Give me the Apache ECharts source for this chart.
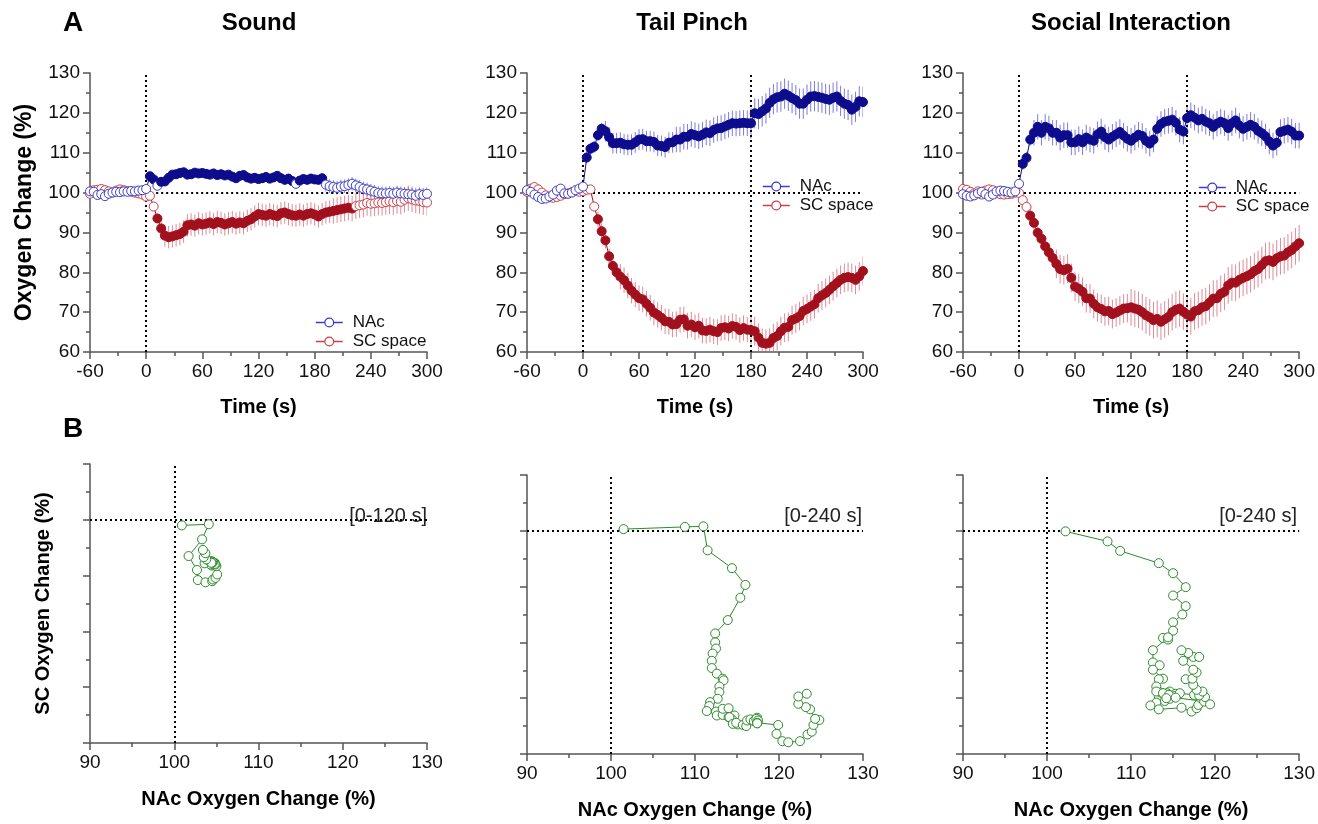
<!DOCTYPE html>
<html><head><meta charset="utf-8">
<script src="https://cdn.jsdelivr.net/npm/echarts@6/dist/echarts.min.js"></script>
<style>html,body{margin:0;padding:0;background:#fff}#c{width:1318px;height:824px}</style>
</head><body><div id="c"></div>
<script>
// ---------------- DATA ----------------
const times = [-60,-56,-52,-48,-44,-40,-36,-32,-28,-24,-20,-16,-12,-8,-4,0,4,8,12,16,20,24,28,32,36,40,44,48,52,56,60,64,68,72,76,80,84,88,92,96,100,104,108,112,116,120,124,128,132,136,140,144,148,152,156,160,164,168,172,176,180,184,188,192,196,200,204,208,212,216,220,224,228,232,236,240,244,248,252,256,260,264,268,272,276,280,284,288,292,296,300];

const panelTitles = ['Sound', 'Tail Pinch', 'Social Interaction'];
const windowLabels = ['[0-120 s]', '[0-240 s]', '[0-240 s]'];
const windowEnds = [120, 240, 240];
const stimEnds = [null, 180, 180];

const soundNAc = [100.3,100.2,99.4,99.6,99.1,99.7,100.0,100.2,100.1,100.3,100.2,100.4,100.3,100.5,100.6,
  100.9,
  104.1,103.3,101.7,102.7,102.8,103.7,104.5,104.6,104.9,105.1,104.5,104.6,105.0,104.8,104.9,104.7,104.5,104.8,104.4,104.6,104.3,104.5,104.0,103.6,104.2,104.4,103.8,103.5,103.7,103.4,
  103.6,103.9,103.5,103.8,104.2,103.6,103.2,103.5,102.9,102.2,103.0,103.4,103.2,103.5,103.3,
  103.2,103.6,102.0,101.6,101.4,101.2,101.5,101.6,101.9,102.2,101.8,101.4,101.0,100.8,100.5,
  100.2,99.9,99.8,99.8,99.9,99.7,100.0,99.8,99.7,99.6,99.5,99.2,99.6,99.4,99.7];
const soundSC = [99.7,100.6,100.7,100.9,100.6,100.3,100.0,100.5,100.8,100.6,100.4,100.2,100.0,99.8,99.5,
  99.0,
  99.2,96.5,93.5,91.0,89.2,88.8,89.0,89.3,89.6,90.2,91.8,92.0,91.7,92.3,92.0,92.2,92.5,92.1,92.6,92.4,92.0,92.3,92.6,92.2,92.5,92.3,92.9,93.3,94.0,94.6,
  94.4,94.2,94.6,94.3,94.1,94.8,95.0,94.6,94.3,94.2,94.5,94.2,94.6,94.8,94.5,
  94.0,94.6,95.0,95.2,95.4,95.6,95.8,96.0,96.2,96.0,96.6,96.8,97.0,97.4,97.2,
  97.3,97.5,97.4,97.6,97.8,97.6,97.9,97.7,98.2,98.6,98.3,98.0,97.9,97.6,97.5];

const tailNAc = [100.6,100.2,99.5,98.9,98.4,98.5,99.0,99.5,100.5,101.0,99.8,99.7,100.0,100.6,101.0,
  101.5,
  108.8,111.0,111.5,114.4,116.0,115.4,113.9,112.4,112.4,112.5,112.1,112.0,112.0,112.6,113.3,113.4,112.9,112.9,112.7,111.8,111.7,111.4,112.5,112.6,113.3,113.3,114.0,114.0,114.7,114.4,
  114.1,114.5,115.1,114.9,115.7,116.1,116.2,116.6,117.0,117.4,117.3,117.4,117.5,117.4,117.4,
  119.9,119.7,120.4,121.1,122.5,123.4,123.9,124.1,124.8,124.3,123.7,123.2,122.3,122.3,123.3,
  124.1,124.2,124.0,123.8,123.5,123.3,123.8,124.1,123.0,122.3,122.0,120.8,121.5,122.9,122.7];
const tailSC = [100.2,101.0,101.4,100.8,100.0,99.3,98.8,98.7,98.9,99.2,99.6,99.8,100.1,100.4,100.2,
  100.3,
  100.7,100.8,96.5,93.3,90.3,88.0,84.0,81.6,80.0,78.9,78.0,76.7,75.4,74.4,73.5,73.2,72.1,71.1,69.9,69.3,68.6,67.7,67.6,66.9,67.0,68.1,68.2,66.6,66.9,66.2,
  66.6,65.4,65.3,65.6,65.2,65.0,66.0,66.2,65.9,66.5,66.3,65.5,66.0,65.6,65.5,
  65.2,63.6,62.3,62.1,62.3,63.5,64.0,65.2,66.1,66.3,68.0,68.4,69.0,70.3,70.8,
  71.4,72.0,73.5,74.2,74.8,75.6,76.5,77.3,78.1,78.6,78.8,78.6,78.1,79.0,80.3];

const socialNAc = [99.6,99.2,99.0,99.3,99.8,100.2,99.6,99.0,99.5,100.3,100.5,100.4,100.2,100.0,100.3,
  102.2,
  107.2,108.7,113.3,115.0,116.5,115.0,116.5,116.1,115.0,115.0,113.8,114.4,114.4,112.6,112.6,113.4,112.6,113.8,113.3,113.0,114.6,115.3,113.9,113.3,114.0,114.6,115.2,114.3,113.5,113.0,
  113.8,114.5,114.2,113.0,112.3,113.3,116.0,117.2,117.8,118.0,118.3,117.5,115.8,115.3,118.7,
  119.4,118.8,118.1,118.5,117.8,117.4,116.5,117.3,117.8,117.4,116.2,117.4,118.1,116.8,116.0,
  116.5,117.0,116.5,115.5,114.9,114.1,112.8,111.8,112.5,115.2,115.5,115.8,115.3,114.3,114.3];
const socialSC = [100.9,100.7,100.2,99.8,100.3,99.5,100.5,100.8,100.6,99.8,99.6,99.5,99.6,99.7,100.0,
  99.9,
  98.1,96.4,94.2,92.4,89.9,88.4,86.5,85.0,83.6,82.1,80.8,80.5,80.9,78.6,76.4,75.9,75.1,73.5,73.4,72.1,71.2,70.8,70.2,70.3,69.5,69.9,70.4,70.9,71.0,71.2,
  70.9,70.6,70.0,69.2,68.7,68.0,68.3,67.6,68.2,68.8,70.0,70.6,70.9,70.1,69.4,
  68.9,70.2,70.5,71.2,71.5,72.4,73.4,73.5,74.6,75.1,76.7,77.4,77.4,78.1,78.6,
  79.0,79.5,80.3,80.8,81.8,82.8,83.0,82.6,83.5,84.0,84.2,85.0,85.6,86.5,87.3];

// time ranges (s) where markers are filled (significant)
const soundNAcSig = [[4, 8], [16, 156], [164, 188]];
const soundSCSig = [[12, 220]];
const tailNAcSig = [[4, 300]];
const tailSCSig = [[16, 300]];
const socialNAcSig = [[4, 300]];
const socialSCSig = [[12, 300]];

// SEM read as step segments: [from time, sem]
const soundNAcSem = [[-60, 0.4], [4, 0.9], [100, 1.2], [190, 1.7]];
const soundSCSem = [[-60, 0.5], [4, 1.0], [16, 2.8], [200, 3.2]];
const tailNAcSem = [[-60, 0.5], [4, 1.5], [24, 2.6], [100, 3.2], [180, 3.8]];
const tailSCSem = [[-60, 0.5], [4, 1.0], [16, 2.0], [40, 3.2], [180, 3.6]];
const socialNAcSem = [[-60, 0.5], [4, 1.5], [16, 3.2]];
const socialSCSem = [[-60, 0.5], [4, 1.0], [12, 2.2], [40, 3.6], [120, 4.6]];

const timeTicks = {min: -60, max: 300, interval: 60};
const oxyTicks = {min: 60, max: 130, interval: 10};
const nacTicks = {min: 90, max: 130, interval: 10};
const scTicks = {min: 60, max: 110, interval: 10};

// ---------------- CHART ----------------
const FONT = '"Liberation Sans", Arial, sans-serif';
const COL = {
  nac: '#0c0c8c', nacOpen: '#3c3cc6', nacErr: 'rgba(80,80,210,0.75)',
  sc: '#a3101d', scOpen: '#c8404a', scErr: 'rgba(205,90,105,0.7)',
  green: '#2b8a2b'
};
const panels = [
  {nac: soundNAc, sc: soundSC, nacSig: soundNAcSig, scSig: soundSCSig, nacSem: soundNAcSem, scSem: soundSCSem},
  {nac: tailNAc, sc: tailSC, nacSig: tailNAcSig, scSig: tailSCSig, nacSem: tailNAcSem, scSem: tailSCSem},
  {nac: socialNAc, sc: socialSC, nacSig: socialNAcSig, scSig: socialSCSig, nacSem: socialNAcSem, scSem: socialSCSem}
];

const topGrids = [
  {left: 90, top: 73, width: 337, height: 279},
  {left: 527, top: 73, width: 336, height: 279},
  {left: 963, top: 73, width: 337, height: 279}
];
const botGrids = [
  {left: 90, top: 464, width: 337, height: 279},
  {left: 527, top: 475, width: 336, height: 279},
  {left: 963, top: 475, width: 337, height: 279}
];

function semAt(segs, t) { let s = segs[0][1]; for (const [t0, v] of segs) if (t >= t0) s = v; return s; }
function isSig(ranges, t) { return ranges.some(([a, b]) => t >= a && t <= b); }

const AX = '#555';
function axisBase(extra) {
  return Object.assign({
    type: 'value',
    axisLine: {show: true, onZero: false, lineStyle: {color: AX, width: 1.5}},
    axisTick: {show: true, inside: false, length: 7, lineStyle: {color: AX, width: 1.5}},
    minorTick: {show: true, splitNumber: 2, length: 4, lineStyle: {color: AX, width: 1.5}},
    axisLabel: {color: '#111', fontSize: 19, fontFamily: FONT, margin: 10},
    splitLine: {show: false},
    nameLocation: 'middle',
    nameTextStyle: {color: '#000', fontWeight: 'bold', fontSize: 20, fontFamily: FONT}
  }, extra);
}

const xAxes = [], yAxes = [], series = [], legends = [];
const dotted = {type: [2, 3], color: '#000', width: 2};

function errSeries(gi, name, vals, segs, color) {
  return {
    type: 'custom', name: name + ' err', xAxisIndex: gi, yAxisIndex: gi, clip: true, silent: true, z: 1,
    data: times.map((t, k) => { const e = semAt(segs, t); return [t, vals[k] - e, vals[k] + e]; }),
    encode: {x: 0, y: [1, 2]},
    renderItem: (params, api) => {
      const a = api.coord([api.value(0), api.value(1)]);
      const b = api.coord([api.value(0), api.value(2)]);
      return {type: 'line', shape: {x1: a[0], y1: a[1], x2: b[0], y2: b[1]}, style: {stroke: color, lineWidth: 1}};
    }
  };
}
function lineSeries(gi, name, vals, sig, c, cOpen, markLine) {
  const s = {
    type: 'line', name: name, xAxisIndex: gi, yAxisIndex: gi, z: 3,
    symbol: 'circle', symbolSize: 9, showSymbol: true,
    lineStyle: {color: c, width: 1},
    itemStyle: {color: c, borderColor: c, borderWidth: 1},
    data: times.map((t, k) => ({
      value: [t, vals[k]],
      itemStyle: isSig(sig, t) ? {color: c, borderColor: c} : {color: '#fff', borderColor: cOpen}
    }))
  };
  if (markLine) s.markLine = markLine;
  return s;
}

panels.forEach((p, i) => {
  xAxes.push(axisBase(Object.assign({gridIndex: i, name: 'Time (s)', nameGap: 45}, timeTicks)));
  yAxes.push(axisBase(Object.assign({gridIndex: i}, oxyTicks,
    i === 0 ? {name: 'Oxygen Change (%)', nameGap: 54, nameTextStyle: {color: '#000', fontWeight: 'bold', fontSize: 23, fontFamily: FONT}} : {})));
  const ml = [{xAxis: 0}];
  if (stimEnds[i] !== null) ml.push({xAxis: stimEnds[i]});
  ml.push([{coord: [0, 100]}, {coord: [timeTicks.max, 100]}]);
  series.push(errSeries(i, 'NAc', p.nac, p.nacSem, COL.nacErr));
  series.push(errSeries(i, 'SC space', p.sc, p.scSem, COL.scErr));
  series.push(lineSeries(i, 'SC space', p.sc, p.scSig, COL.sc, COL.scOpen, null));
  series.push(lineSeries(i, 'NAc', p.nac, p.nacSig, COL.nac, COL.nacOpen,
    {silent: true, symbol: 'none', label: {show: false}, lineStyle: dotted, data: ml, z: 2}));
});

const legendPos = [{left: 310, top: 309}, {left: 757, top: 173}, {left: 1193, top: 174}];
legendPos.forEach(lp => {
  legends.push(Object.assign({
    orient: 'vertical', itemWidth: 27, itemHeight: 11, itemGap: 2,
    textStyle: {fontSize: 17, fontFamily: FONT, color: '#111', padding: [0, 0, 0, 5]},
    selectedMode: false,
    data: [
      {name: 'NAc', itemStyle: {color: '#fff', borderColor: COL.nacOpen, borderWidth: 1.2}, lineStyle: {color: COL.nacOpen, width: 1.5}},
      {name: 'SC space', itemStyle: {color: '#fff', borderColor: COL.scOpen, borderWidth: 1.2}, lineStyle: {color: COL.scOpen, width: 1.5}}
    ]
  }, lp));
});

panels.forEach((p, i) => {
  const gi = 3 + i;
  xAxes.push(axisBase(Object.assign({gridIndex: gi, name: 'NAc Oxygen Change (%)', nameGap: 46}, nacTicks)));
  yAxes.push(axisBase(Object.assign({gridIndex: gi, axisLabel: {show: false}}, scTicks,
    i === 0 ? {name: 'SC Oxygen Change (%)', nameGap: 37} : {})));
  const pts = [];
  times.forEach((t, k) => { if (t >= 0 && t <= windowEnds[i]) pts.push([p.nac[k], p.sc[k]]); });
  series.push({
    type: 'line', name: 'trajectory' + i, xAxisIndex: gi, yAxisIndex: gi, z: 3,
    symbol: 'circle', symbolSize: 9, showSymbol: true,
    lineStyle: {color: COL.green, width: 1},
    itemStyle: {color: '#fff', borderColor: COL.green, borderWidth: 1},
    data: pts,
    markLine: {silent: true, symbol: 'none', label: {show: false}, lineStyle: dotted, z: 2,
      data: [{xAxis: 100}, {yAxis: 100}]}
  });
});

const graphics = [
  {type: 'text', x: 73, y: 23, style: {text: 'A', font: 'bold 28px ' + FONT, fill: '#000', align: 'center', verticalAlign: 'middle'}},
  {type: 'text', x: 73, y: 429, style: {text: 'B', font: 'bold 28px ' + FONT, fill: '#000', align: 'center', verticalAlign: 'middle'}}
];
const titleX = [259, 692, 1131];
panelTitles.forEach((t, i) => graphics.push({type: 'text', x: titleX[i], y: 23,
  style: {text: t, font: 'bold 24px ' + FONT, fill: '#000', align: 'center', verticalAlign: 'middle'}}));
const annX = [427, 862, 1297];
windowLabels.forEach((t, i) => graphics.push({type: 'text', x: annX[i], y: 516,
  style: {text: t, font: '20px ' + FONT, fill: '#222', align: 'right', verticalAlign: 'middle'}}));

const chart = echarts.init(document.getElementById('c'), null, {renderer: 'canvas', width: 1318, height: 824});
chart.setOption({
  animation: false,
  backgroundColor: '#fff',
  grid: topGrids.concat(botGrids),
  xAxis: xAxes,
  yAxis: yAxes,
  legend: legends,
  series: series,
  graphic: graphics
});
</script>
</body></html>
